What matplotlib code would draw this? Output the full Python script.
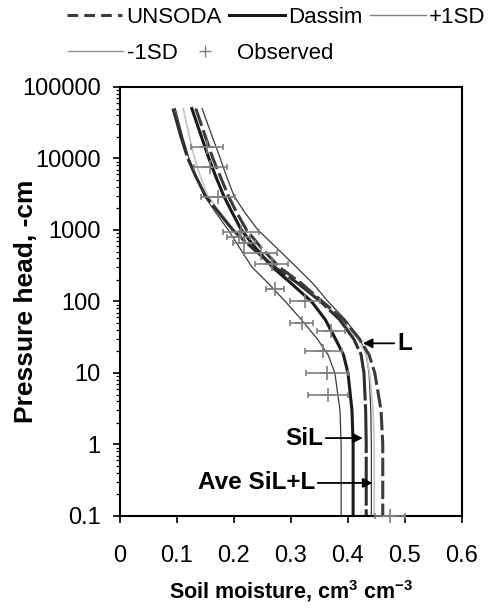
import matplotlib
matplotlib.use("Agg")
import matplotlib.pyplot as plt
from matplotlib.lines import Line2D
from matplotlib.ticker import FixedLocator, LogLocator, NullFormatter

plt.rcParams['font.family'] = ['Liberation Sans', 'DejaVu Sans']
plt.rcParams['mathtext.default'] = 'regular'

# pressure head (cm) at which the curves were read
head = [50000, 20000, 10000, 5600, 3000, 1800, 1000, 560, 300, 180, 100, 56, 30, 18, 10, 3, 1, 0.1]

# soil moisture (cm3/cm3) for each curve
dassim = [0.126, 0.143, 0.156, 0.168, 0.182, 0.196, 0.213, 0.238, 0.268, 0.300, 0.336, 0.360, 0.378, 0.392, 0.400, 0.407, 0.409, 0.409]
unsoda_sil = [0.093, 0.107, 0.119, 0.133, 0.150, 0.172, 0.198, 0.232, 0.272, 0.312, 0.352, 0.385, 0.410, 0.423, 0.428, 0.431, 0.432, 0.432]
unsoda_l = [0.133, 0.150, 0.163, 0.176, 0.190, 0.204, 0.222, 0.248, 0.280, 0.318, 0.355, 0.392, 0.420, 0.437, 0.447, 0.458, 0.461, 0.461]
ave_sil_l = [0.111, 0.122, 0.131, 0.141, 0.154, 0.175, 0.200, 0.232, 0.268, 0.310, 0.350, 0.388, 0.418, 0.432, 0.438, 0.444, 0.446, 0.446]
plus_1sd = [0.144, 0.162, 0.176, 0.187, 0.200, 0.218, 0.242, 0.275, 0.310, 0.338, 0.365, 0.395, 0.421, 0.432, 0.437, 0.440, 0.441, 0.441]
minus_1sd = [0.097, 0.110, 0.121, 0.134, 0.148, 0.167, 0.190, 0.210, 0.232, 0.260, 0.290, 0.318, 0.346, 0.365, 0.377, 0.386, 0.388, 0.388]

# observed points with standard deviation
obs_theta = [0.152, 0.158, 0.172, 0.212, 0.208, 0.218, 0.247, 0.266, 0.272, 0.325, 0.319, 0.370, 0.357, 0.363, 0.365, 0.474]
obs_head = [14600, 7700, 2900, 950, 810, 650, 480, 330, 148, 100, 50, 39, 20, 10, 4.9, 0.1]
obs_sd = [0.028, 0.029, 0.030, 0.032, 0.020, 0.019, 0.029, 0.029, 0.016, 0.026, 0.020, 0.025, 0.033, 0.037, 0.035, 0.026]

y_ticks = [0.1, 1, 10, 100, 1000, 10000, 100000]
y_labels = ['0.1', '1', '10', '100', '1000', '10000', '100000']
x_ticks = [0, 0.1, 0.2, 0.3, 0.4, 0.5, 0.6]
x_labels = ['0', '0.1', '0.2', '0.3', '0.4', '0.5', '0.6']

fig = plt.figure(figsize=(4.92, 6.1), dpi=100)
ax = fig.add_axes([0.2439, 0.1541, 0.6951, 0.7033])

ax.plot(minus_1sd, head, color='#3a3a3a', lw=0.9)
ax.plot(plus_1sd, head, color='#3a3a3a', lw=0.9)
ax.plot(ave_sil_l, head, color='#c4c4c4', lw=1.2)
ax.plot(dassim, head, color='#1a1a1a', lw=2.2)
ax.plot(unsoda_sil, head, color='#2e2e2e', lw=2.2, dashes=[16, 1.2])
ax.plot(unsoda_l, head, color='#3c3c3c', lw=2.2, dashes=[6, 1.5])

ax.errorbar(obs_theta, obs_head, xerr=obs_sd, fmt='+', color='#7f7f7f',
            ms=10, mew=1.2, elinewidth=1.2, capsize=2.5, capthick=1.2,
            clip_on=False, zorder=3)

# labels with arrows
arrow = dict(arrowstyle='-|>', color='black', lw=1.3, mutation_scale=14, shrinkA=0, shrinkB=0)
ax.annotate('L', xy=(0.426, 26), xytext=(0.486, 26), ha='left', va='center',
            fontsize=17.5, fontweight='bold', arrowprops=arrow)
ax.annotate('SiL', xy=(0.426, 1.23), xytext=(0.356, 1.23), ha='right', va='center',
            fontsize=17.5, fontweight='bold', arrowprops=arrow)
ax.annotate('Ave SiL+L', xy=(0.443, 0.29), xytext=(0.342, 0.29), ha='right', va='center',
            fontsize=17.5, fontweight='bold', arrowprops=arrow)

ax.set_yscale('log')
ax.set_xlim(0, 0.6)
ax.set_ylim(0.1, 100000)
ax.yaxis.set_major_locator(FixedLocator(y_ticks))
ax.set_yticklabels(y_labels)
ax.yaxis.set_minor_locator(LogLocator(base=10, subs=range(2, 10), numticks=20))
ax.yaxis.set_minor_formatter(NullFormatter())
ax.set_xticks(x_ticks)
ax.set_xticklabels(x_labels)

ax.tick_params(axis='both', which='major', direction='out', length=5, width=1.2, labelsize=17)
ax.tick_params(axis='x', pad=16)
ax.tick_params(axis='y', pad=9)
ax.tick_params(axis='y', which='minor', direction='out', length=3, width=0.9)
for s in ax.spines.values():
    s.set_linewidth(1.5)

ax.set_xlabel(r'Soil moisture, cm$^{3}$ cm$^{-3}$', fontsize=15.5, fontweight='bold')
ax.set_ylabel('Pressure head, -cm', fontsize=19, fontweight='bold')
ax.xaxis.set_label_coords(0.5, -0.145)
ax.yaxis.set_label_coords(-0.24, 0.5)

# legend, two rows like the original
h_unsoda = Line2D([], [], color='#3c3c3c', lw=2.2, dashes=[3.5, 2])
h_dassim = Line2D([], [], color='#1a1a1a', lw=2.2)
h_plus = Line2D([], [], color='#808080', lw=1.0)
h_minus = Line2D([], [], color='#909090', lw=1.0)
h_obs = Line2D([], [], color='#7f7f7f', marker='+', ls='none', ms=9, mew=1.0)

leg1 = fig.legend([h_unsoda, h_dassim, h_plus], ['UNSODA', 'Dassim', '+1SD'],
                  ncol=3, loc='center left', bbox_to_anchor=(0.136, 0.972),
                  frameon=False, fontsize=16, handlelength=2.5, handletextpad=0.15,
                  columnspacing=0.35, borderpad=0, borderaxespad=0)
leg2 = fig.legend([h_minus, h_obs], ['-1SD', 'Observed'],
                  ncol=2, loc='center left', bbox_to_anchor=(0.138, 0.913),
                  frameon=False, fontsize=16, handlelength=2.5, handletextpad=0.15,
                  columnspacing=0.0, borderpad=0, borderaxespad=0, numpoints=1)

fig.savefig('out.png', dpi=100)
